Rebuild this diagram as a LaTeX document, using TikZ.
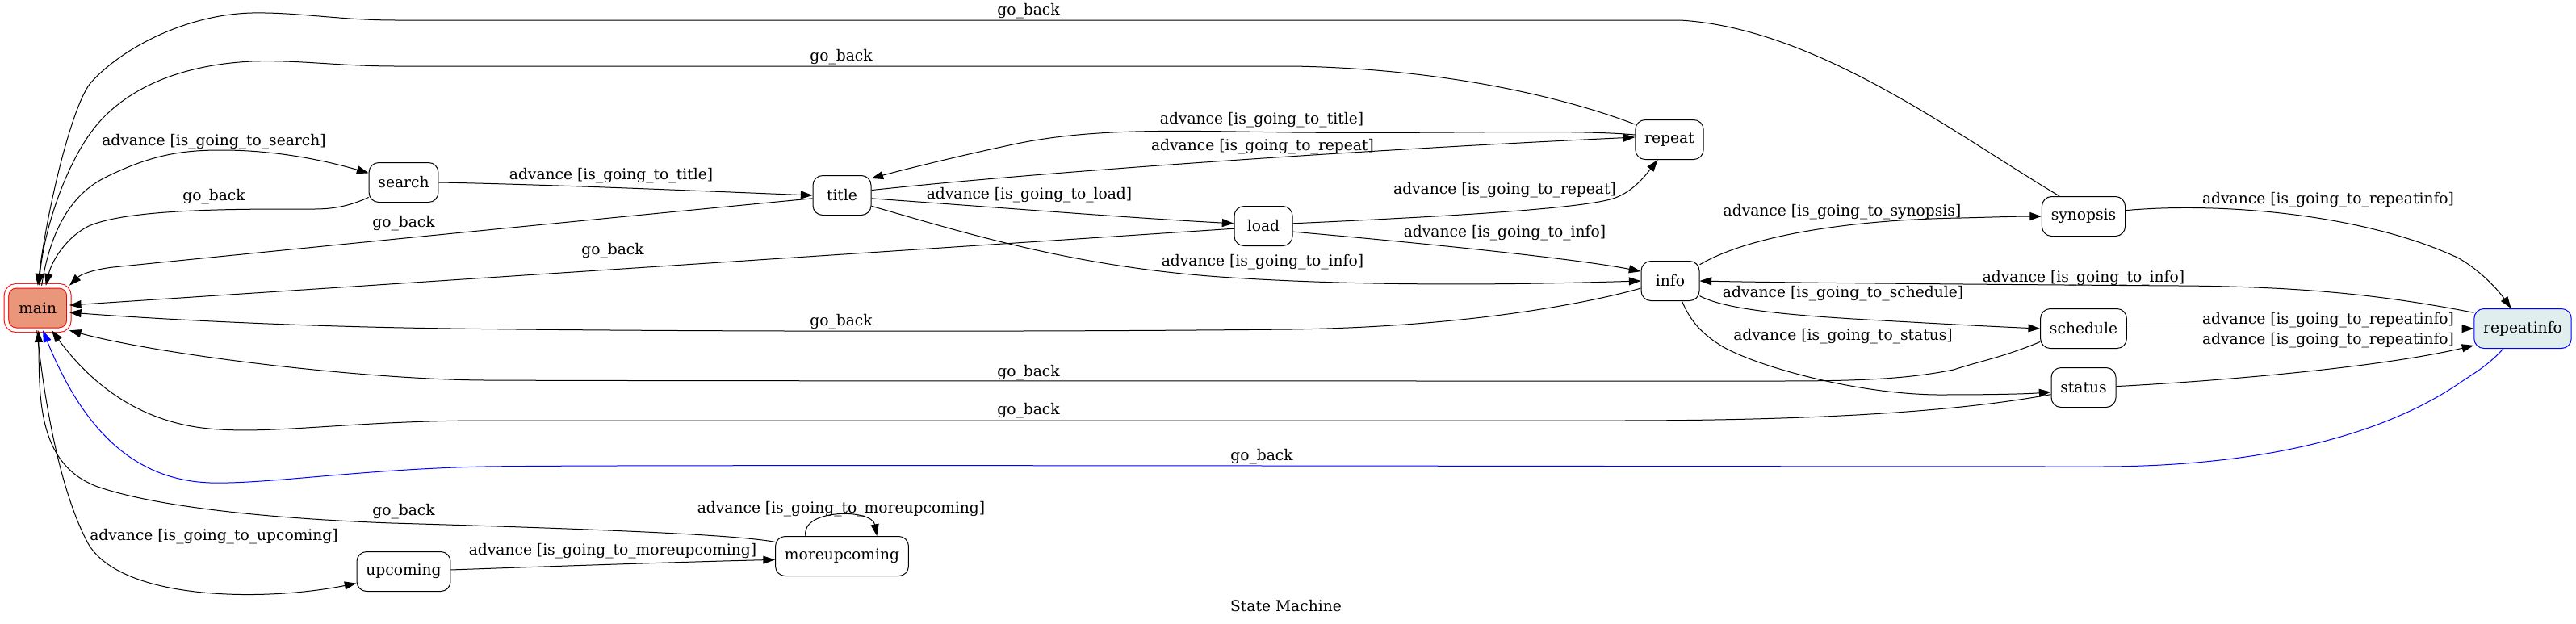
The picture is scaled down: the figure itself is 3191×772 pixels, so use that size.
\documentclass[tikz,border=0pt]{standalone}
\usepackage{fontspec}
\setmainfont{DejaVu Serif}
\usetikzlibrary{arrows.meta}
\definecolor{mainfill}{HTML}{E9967A}
\definecolor{lastfill}{HTML}{E0EEEE}
\tikzset{
	state/.style={draw, line width=0.75pt, rounded corners=9pt, minimum width=54pt, minimum height=36.75pt, inner xsep=8.5pt, font=\fontsize{14}{16.8}\selectfont},
	lbl/.style={inner sep=0pt, font=\fontsize{14}{16.8}\selectfont},
	trans/.style={line width=0.75pt, -{Triangle[length=11pt,width=7.5pt]}}
}
\begin{document}
\begin{tikzpicture}[x=0.75pt, y=-0.75pt]

		\useasboundingbox (0,0) rectangle (3191,772);

		\node[state, draw=red, fill=mainfill, double=white, double distance=3.4pt, minimum width=58.1pt, minimum height=40.9pt] (main) at (46.7,381.5) {main};
		\node[state] (search) at (500,226) {search};
		\node[state] (title) at (1043,242) {title};
		\node[state] (load) at (1565,280) {load};
		\node[state] (repeat) at (2068,173) {repeat};
		\node[state] (info) at (2069,348) {info};
		\node[state] (synopsis) at (2581,268) {synopsis};
		\node[state] (schedule) at (2581,407) {schedule};
		\node[state] (status) at (2581,480) {status};
		\node[state, draw=blue, fill=lastfill] (repeatinfo) at (3125,407) {repeatinfo};
		\node[state] (upcoming) at (500,708) {upcoming};
		\node[state] (moreupcoming) at (1043,689) {moreupcoming};

		\draw[trans] (main.80) .. controls (60,300) and (80,245) .. (130,220) .. controls (190,190) and (230,186) .. (275,186) .. controls (340,186) and (400,198) .. (search.165);
		\draw[trans] (search.203) .. controls (440,252) and (420,259) .. (390,259) .. controls (300,259) and (160,258) .. (110,280) .. controls (85,292) and (65,320) .. (main.70);
		\draw[trans] (search.east) .. controls (700,229) and (900,238) .. (title.west);
		\draw[trans] (title.186) .. controls (700,275) and (300,315) .. (140,331) .. controls (115,334) and (100,340) .. (main.north east);
		\draw[trans] (title.354) .. controls (1250,258) and (1400,270) .. (load.175);
		\draw[trans] (load.185) -- (main.5);
		\draw[trans] (title.340) .. controls (1200,290) and (1330,330) .. (1511,343) .. controls (1700,356) and (1900,352) .. (info.west);
		\draw[trans] (load.5) .. controls (1750,270) and (1960,260) .. (2001,245) .. controls (2025,236) and (2040,215) .. (repeat.240);
		\draw[trans] (load.349) .. controls (1750,300) and (1950,320) .. (info.162);
		\draw[trans] (title.10) .. controls (1300,212) and (1700,185) .. (repeat.176);
		\draw[trans] (repeat.172) .. controls (1950,160) and (1800,166) .. (1600,164) .. controls (1450,162) and (1350,158) .. (1250,180) .. controls (1180,195) and (1120,210) .. (title.30);
		\draw[trans] (repeat.156) .. controls (1950,125) and (1800,85) .. (1600,82) -- (491,82) .. controls (420,82) and (370,74) .. (312,76) .. controls (230,80) and (165,105) .. (124,150) .. controls (85,193) and (55,280) .. (main.87);
		\draw[trans] (synopsis.140) .. controls (2420,165) and (2250,35) .. (2081,25) -- (491,25) .. controls (420,25) and (370,15) .. (312,16) .. controls (230,18) and (150,60) .. (112,103) .. controls (90,130) and (60,250) .. (main.90);
		\draw[trans] (info.194) .. controls (1950,380) and (1800,405) .. (1600,408) .. controls (1200,412) and (700,410) .. (500,406) .. controls (300,402) and (150,392) .. (main.352);
		\draw[trans] (info.29) .. controls (2170,290) and (2300,272) .. (2429,270) .. controls (2470,269) and (2500,268) .. (synopsis.west);
		\draw[trans] (info.333) .. controls (2135,382) and (2200,390) .. (2331,397) .. controls (2420,402) and (2480,405) .. (schedule.west);
		\draw[trans] (info.-60) .. controls (2095,400) and (2110,415) .. (2135,430) .. controls (2180,455) and (2300,488) .. (2400,489) .. controls (2470,489) and (2510,488) .. (status.188);
		\draw[trans] (synopsis.8) .. controls (2750,250) and (2930,265) .. (3046,320) .. controls (3075,337) and (3095,360) .. (repeatinfo.120);
		\draw[trans] (repeatinfo.162) .. controls (2950,365) and (2850,355) .. (2700,354) .. controls (2400,352) and (2200,350) .. (info.east);
		\draw[trans] (schedule.east) -- (repeatinfo.west);
		\draw[trans] (status.2) .. controls (2750,472) and (2950,455) .. (repeatinfo.199);
		\draw[trans] (schedule.197) .. controls (2480,443) and (2450,448) .. (2420,458) .. controls (2360,470) and (2300,472) .. (2200,472) .. controls (1500,472) and (800,472) .. (600,471) .. controls (450,470) and (200,440) .. (main.south east);
		\draw[trans] (status.192) .. controls (2450,505) and (2300,521) .. (2000,521) .. controls (1500,521) and (800,521) .. (600,521) .. controls (430,521) and (330,540) .. (250,530) .. controls (180,521) and (120,485) .. (main.-58);
		\draw[trans, blue] (repeatinfo.-134) .. controls (3080,455) and (3060,465) .. (3046,475) .. controls (2950,540) and (2800,578) .. (2600,578) .. controls (2000,578) and (800,575) .. (600,578) .. controls (450,581) and (330,600) .. (260,598) .. controls (180,595) and (110,550) .. (main.-77);
		\draw[trans] (main.-92) .. controls (55,500) and (75,610) .. (109,673) .. controls (150,745) and (330,745) .. (upcoming.194);
		\draw[trans] (upcoming.2) .. controls (700,701) and (850,696) .. (moreupcoming.183);
		\draw[trans] (moreupcoming.168) .. controls (920,664) and (800,657) .. (485,648) .. controls (350,643) and (200,630) .. (121,603) .. controls (45,575) and (49,490) .. (main.-88);
		\draw[trans] (moreupcoming.151) .. controls (992,630) and (1080,630) .. (moreupcoming.30);

		\node[lbl] (tosearch) at (265,176) {advance [is\_going\_to\_search]};
		\node[lbl] (searchback) at (265,244) {go\_back};
		\node[lbl] (searchtitle) at (757,218) {advance [is\_going\_to\_title]};
		\node[lbl] (titleback) at (500,277) {go\_back};
		\node[lbl] (titleload) at (1275,242) {advance [is\_going\_to\_load]};
		\node[lbl] (loadback) at (759,311) {go\_back};
		\node[lbl] (titleinfo) at (1564,325) {advance [is\_going\_to\_info]};
		\node[lbl] (loadrepeat) at (1864,236) {advance [is\_going\_to\_repeat]};
		\node[lbl] (loadinfo) at (1864,289) {advance [is\_going\_to\_info]};
		\node[lbl] (titlerepeat) at (1564,182) {advance [is\_going\_to\_repeat]};
		\node[lbl] (repeattitle) at (1563,149) {advance [is\_going\_to\_title]};
		\node[lbl] (repeatback) at (1042,71) {go\_back};
		\node[lbl] (synopsisback) at (1274,14) {go\_back};
		\node[lbl] (infoback) at (1042,399) {go\_back};
		\node[lbl] (infosynopsis) at (2282,263) {advance [is\_going\_to\_synopsis]};
		\node[lbl] (infoschedule) at (2283,364) {advance [is\_going\_to\_schedule]};
		\node[lbl] (infostatus) at (2283,417) {advance [is\_going\_to\_status]};
		\node[lbl] (synopsisri) at (2884,248) {advance [is\_going\_to\_repeatinfo]};
		\node[lbl] (riinfo) at (2581,345) {advance [is\_going\_to\_info]};
		\node[lbl] (scheduleri) at (2884,397) {advance [is\_going\_to\_repeatinfo]};
		\node[lbl] (statusri) at (2884,422) {advance [is\_going\_to\_repeatinfo]};
		\node[lbl] (scheduleback) at (1274,462) {go\_back};
		\node[lbl] (statusback) at (1274,509) {go\_back};
		\node[lbl] (riback) at (1563,566) {go\_back};
		\node[lbl] (toupcoming) at (265,665) {advance [is\_going\_to\_upcoming]};
		\node[lbl] (upmore) at (759,683) {advance [is\_going\_to\_moreupcoming]};
		\node[lbl] (moreback) at (500,634) {go\_back};
		\node[lbl] (moreloop) at (1042,631) {advance [is\_going\_to\_moreupcoming]};
		\node[lbl] (caption) at (1593,751) {State Machine};
	\end{tikzpicture}
\end{document}
